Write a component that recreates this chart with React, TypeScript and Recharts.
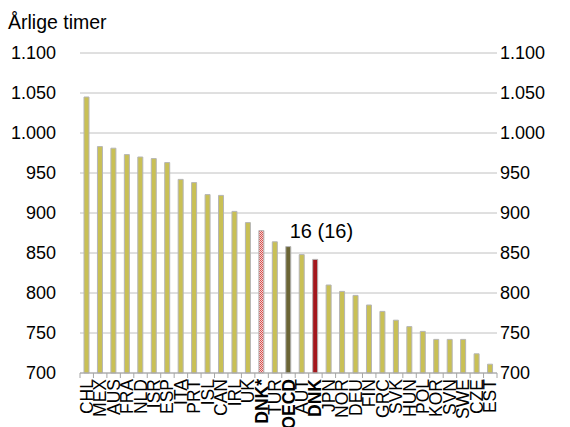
import { Bar, CartesianGrid, Cell, ComposedChart, Line, ReferenceDot, XAxis, YAxis } from "recharts"

const categories = [
  "CHL", "MEX", "AUS", "FRA", "NLD", "ISR", "ESP", "ITA", "PRT", "ISL", "CAN",
  "IRL", "UK", "DNK*", "TUR", "OECD", "AUT", "DNK", "JPN", "NOR", "DEU", "FIN",
  "GRC", "SVK", "HUN", "POL", "KOR", "SVN", "SWE", "CZE", "EST",
]

const hours = [
  1045, 983, 981, 973, 970, 968, 963, 942, 938, 923, 922,
  902, 888, 878, 864, 858, 848, 842, 810, 802, 797, 785,
  777, 766, 758, 752, 742, 742, 742, 724, 711,
]

const yTicks = [700, 750, 800, 850, 900, 950, 1000, 1050, 1100]
const boldLabels = ["DNK*", "OECD", "DNK"]
const rankNote = "16 (16)"

const data = categories.map((name, i) => ({ name, hours: hours[i] }))

const font = "Arial, 'Liberation Sans', sans-serif"

// danish thousands separator
const fmt = (v: number) =>
  v >= 1000 ? `${Math.floor(v / 1000)}.${String(v % 1000).padStart(3, "0")}` : `${v}`

const fillFor = (name: string) => {
  if (name === "OECD") return "#6b6535"
  if (name === "DNK") return "#a3171c"
  if (name === "DNK*") return "url(#dnkStar)"
  return "#c9c055"
}

function CountryTick(props: any) {
  const { x, y, payload, index, visibleTicksCount } = props
  const half = payload?.offset ? payload.offset : 6.7
  const bold = boldLabels.includes(payload.value)
  const last = index === (visibleTicksCount ?? categories.length) - 1
  return (
    <g>
      <line x1={x - half} y1={y} x2={x - half} y2={y + 5} stroke="#a6a6a6" />
      {last && <line x1={x + half} y1={y} x2={x + half} y2={y + 5} stroke="#a6a6a6" />}
      <text
        x={x}
        y={y + 6}
        transform={`rotate(-90 ${x} ${y + 6})`}
        textAnchor="end"
        dominantBaseline="central"
        fontSize={17.5}
        fontWeight={bold ? "bold" : "normal"}
        fill="#000"
        fontFamily={font}
      >
        {payload.value}
      </text>
    </g>
  )
}

export default function App() {
  return (
    <div style={{ position: "absolute", left: 0, top: 0, width: 570, height: 427, fontFamily: font, background: "#fff" }}>
      <div style={{ position: "absolute", left: 8, top: 11, fontSize: 19.5, color: "#000" }}>Årlige timer</div>
      <ComposedChart width={570} height={427} data={data} margin={{ top: 53, right: 0, bottom: 0, left: 0 }}>
        <defs>
          <pattern id="dnkStar" width="2" height="2" patternUnits="userSpaceOnUse">
            <rect width="2" height="2" fill="#f4d3d3" />
            <rect width="1" height="1" fill="#d9534f" />
            <rect x="1" y="1" width="1" height="1" fill="#d9534f" />
          </pattern>
        </defs>
        <CartesianGrid vertical={false} stroke="#c0c0c0" yAxisId="left" />
        <XAxis
          dataKey="name"
          interval={0}
          height={54}
          tickSize={0}
          tickMargin={0}
          tickLine={false}
          axisLine={{ stroke: "#a6a6a6" }}
          tick={<CountryTick />}
        />
        <YAxis
          yAxisId="left"
          width={80}
          domain={[700, 1100]}
          ticks={yTicks}
          tickFormatter={fmt}
          axisLine={false}
          tickLine={false}
          tickSize={0}
          tickMargin={24}
          tick={{ fill: "#000", fontSize: 18, fontFamily: font }}
        />
        <YAxis
          yAxisId="right"
          orientation="right"
          width={73}
          domain={[700, 1100]}
          ticks={yTicks}
          tickFormatter={fmt}
          axisLine={false}
          tickLine={false}
          tickSize={0}
          tickMargin={3}
          tick={{ fill: "#000", fontSize: 18, fontFamily: font, textAnchor: "start" }}
        />
        <Bar dataKey="hours" yAxisId="left" barSize={5} stroke="#b5b5b5" strokeWidth={1} isAnimationActive={false}>
          {data.map((d) => (
            <Cell key={d.name} fill={fillFor(d.name)} />
          ))}
        </Bar>
        {/* invisible series so the right axis gets drawn */}
        <Line
          dataKey="hours"
          yAxisId="right"
          stroke="none"
          dot={false}
          activeDot={false}
          legendType="none"
          isAnimationActive={false}
        />
        <ReferenceDot
          x="DNK"
          y={877}
          yAxisId="left"
          r={0}
          stroke="none"
          fill="none"
          label={(p: any) => (
            <text
              x={p.viewBox.x + 6}
              y={p.viewBox.y}
              textAnchor="middle"
              dominantBaseline="central"
              fontSize={20}
              fill="#000"
              fontFamily={font}
            >
              {rankNote}
            </text>
          )}
        />
      </ComposedChart>
    </div>
  )
}
